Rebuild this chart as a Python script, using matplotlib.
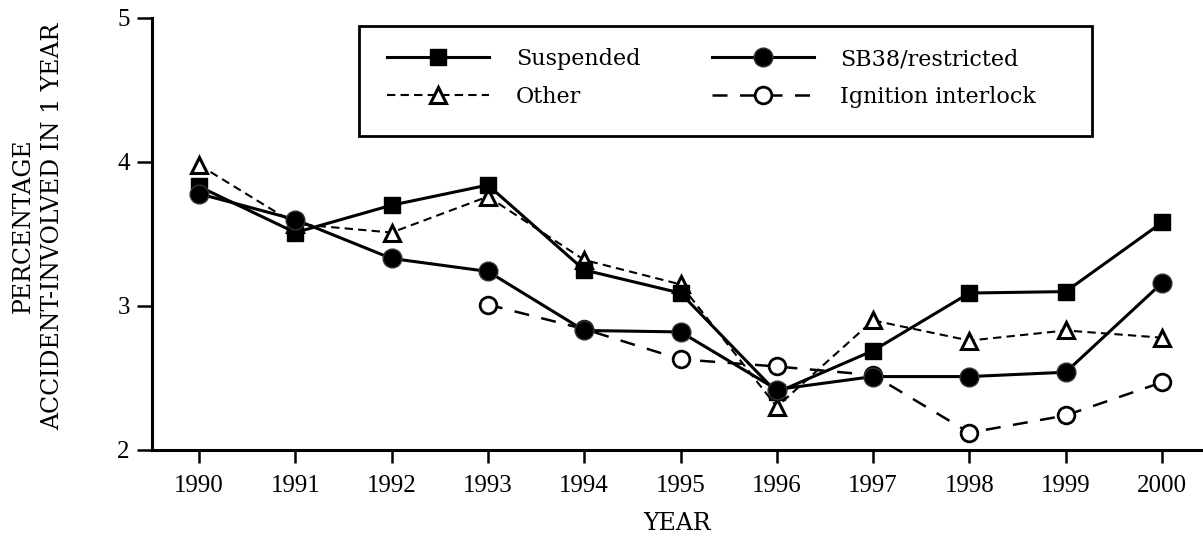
import numpy as np
import matplotlib
matplotlib.use("Agg")
import matplotlib.pyplot as plt
from matplotlib.patches import Rectangle

plt.rcParams['font.family'] = ['DejaVu Serif']

years = [1990, 1991, 1992, 1993, 1994, 1995, 1996, 1997, 1998, 1999, 2000]
suspended = [3.83, 3.51, 3.70, 3.84, 3.25, 3.09, 2.40, 2.69, 3.09, 3.10, 3.58]
sb38 = [3.78, 3.60, 3.33, 3.24, 2.83, 2.82, 2.42, 2.51, 2.51, 2.54, 3.16]
other = [3.98, 3.57, 3.51, 3.76, 3.32, 3.15, 2.30, 2.90, 2.76, 2.83, 2.78]
ignition = [np.nan, np.nan, np.nan, 3.01, 2.84, 2.63, 2.58, 2.52, 2.12, 2.24, 2.47]

W, H = 1203, 537
fig = plt.figure(figsize=(W / 100, H / 100), dpi=100)
ax = fig.add_axes([152 / W, 1 - 450 / H, (W - 152) / W, (450 - 18) / H])

l_ign, = ax.plot(years, ignition, color='black', lw=1.8, dashes=(6, 5),
                 marker='o', ms=12, mfc='white', mec='black', mew=2,
                 label='Ignition interlock')
l_oth, = ax.plot(years, other, color='black', lw=1.5, dashes=(4, 2.5),
                 marker='^', ms=12, mfc='white', mec='black', mew=2.2,
                 label='Other')
l_sus, = ax.plot(years, suspended, color='black', lw=2.2,
                 marker='s', ms=12, mfc='black', mec='black',
                 label='Suspended')
l_sb, = ax.plot(years, sb38, color='black', lw=2.2,
                marker='o', ms=13.5, mfc='black', mec='#333333', mew=1,
                label='SB38/restricted')

ax.set_xlim(1990 - 47 / 96.3, 2000 + 41 / 96.3)
ax.set_ylim(2, 5)
ax.set_xticks(years)
ax.set_yticks([2, 3, 4, 5])
ax.spines['top'].set_visible(False)
ax.spines['right'].set_visible(False)
for s in ['left', 'bottom']:
    ax.spines[s].set_linewidth(2.2)
ax.tick_params(axis='x', length=9, width=1.8, pad=9)
ax.tick_params(axis='y', length=11, width=1.8, pad=5)
for lab in ax.get_xticklabels() + ax.get_yticklabels():
    lab.set_family('Liberation Serif')
    lab.set_fontsize(18)
ax.set_xlabel('YEAR', fontsize=17, labelpad=11)

fig.text(38 / W, 1 - 226 / H, 'PERCENTAGE\nACCIDENT-INVOLVED IN 1 YEAR',
         rotation=90, ha='center', va='center', multialignment='center',
         fontsize=17, linespacing=1.35)

# legend box drawn by hand, entries via legend
fig.patches.append(Rectangle((359 / W, 1 - 136 / H), (1092 - 359) / W, (136 - 26) / H,
                             transform=fig.transFigure, fill=False,
                             ec='black', lw=2))
fig.legend([l_sus, l_oth, l_sb, l_ign],
           ['Suspended', 'Other', 'SB38/restricted', 'Ignition interlock'],
           ncol=2, loc='upper left', bbox_to_anchor=(387 / W, 1 - 48 / H),
           frameon=False, fontsize=16, borderpad=0, borderaxespad=0,
           handlelength=4.6, handletextpad=1.2, columnspacing=3.2,
           labelspacing=0.73)

fig.savefig('out.png', dpi=100)
